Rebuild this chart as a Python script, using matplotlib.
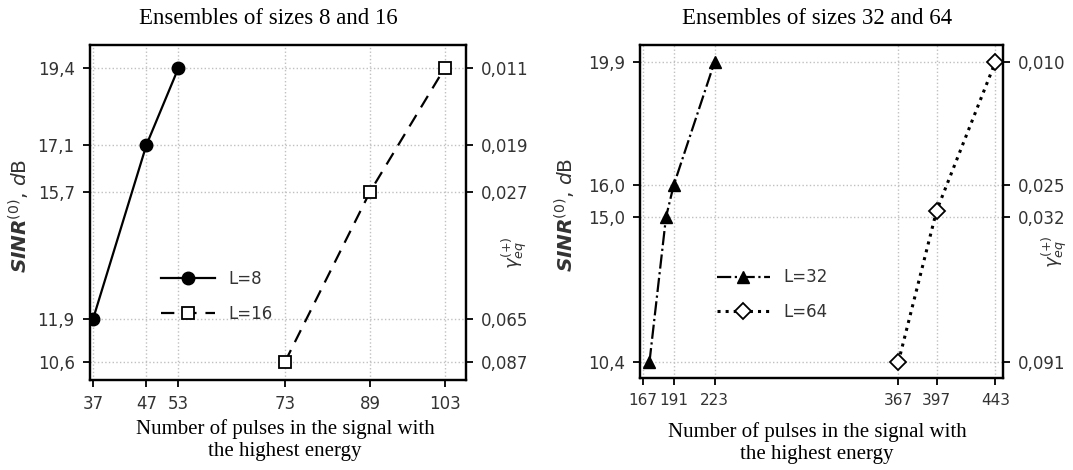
import matplotlib.pyplot as plt

# left panel: ensembles of 8 and 16
x8 = [37, 47, 53]
y8 = [11.9, 17.1, 19.4]
x16 = [73, 89, 103]
y16 = [10.6, 15.7, 19.4]
xt_left = [37, 47, 53, 73, 89, 103]
yt_left = [10.6, 11.9, 15.7, 17.1, 19.4]
yl_left = ['10,6', '11,9', '15,7', '17,1', '19,4']
gl_left = ['0,087', '0,065', '0,027', '0,019', '0,011']

# right panel: ensembles of 32 and 64
x32 = [172, 185, 191, 223]
y32 = [10.4, 15.0, 16.0, 19.9]
x64 = [367, 397, 443]
y64 = [10.4, 15.2, 19.9]
xt_right = [167, 191, 223, 367, 397, 443]
yt_right = [10.4, 15.0, 16.0, 19.9]
yl_right = ['10,4', '15,0', '16,0', '19,9']
gl_right = ['0,091', '0,032', '0,025', '0,010']

W, H = 1073, 470
fig = plt.figure(figsize=(W/100, H/100), dpi=100)
plt.rcParams['font.family'] = 'DejaVu Sans'
tick_col = '#333333'
serif = 'Liberation Serif'
ylab = r'$\mathbfit{SINR}^{(0)}$, $\mathit{d}$B'


def style(ax, xt, yt, ylabels, glabels, xlim, ylim, spos, gpos, xfs):
    ax.set_xlim(*xlim)
    ax.set_ylim(*ylim)
    ax.set_xticks(xt)
    ax.set_xticklabels([str(v) for v in xt])
    ax.set_yticks(yt)
    ax.set_yticklabels(ylabels)
    ax.grid(ls=':', color='#c0c0c0', lw=1)
    for s in ax.spines.values():
        s.set_linewidth(1.6)
    ax.tick_params(direction='out', length=5, width=1.3, labelsize=12,
                   labelcolor=tick_col, pad=6)
    ax.tick_params(axis='x', labelsize=xfs)
    ax.set_ylabel(ylab, fontsize=14.5, color=tick_col)
    ax.yaxis.set_label_coords(*spos)
    ax2 = ax.twinx()
    ax2.set_ylim(*ylim)
    ax2.set_yticks(yt)
    ax2.set_yticklabels(glabels)
    ax2.tick_params(direction='out', length=5, width=1.3, labelsize=12,
                    labelcolor=tick_col, pad=6)
    ax2.set_ylabel(r'$\gamma_{eq}^{(+)}$', fontsize=13, color=tick_col)
    ax2.yaxis.set_label_coords(*gpos)
    for s in ax2.spines.values():
        s.set_linewidth(1.6)
    return ax2


ax1 = fig.add_axes([90/W, (H-380)/H, 376/W, 335/H])
ax1.plot(x8, y8, '-', color='black', lw=1.6, marker='o', ms=9, label='L=8')
ax1.plot(x16, y16, '--', color='black', lw=1.6, marker='s', ms=9,
         mfc='white', mew=1.3, dashes=(6, 4), label='L=16')
style(ax1, xt_left, yt_left, yl_left, gl_left, (36.4, 107), (10.06, 20.09),
      (-0.154, 0.49), (1.09, 0.38), 12)
ax1.legend(loc='center left', bbox_to_anchor=(0.15, 0.25), frameon=False,
           fontsize=12, labelcolor=tick_col, handlelength=3.2, labelspacing=1.0)

ax3 = fig.add_axes([640/W, (H-378)/H, 363/W, 333/H])
ax3.plot(x32, y32, '-.', color='black', lw=1.6, marker='^', ms=9, label='L=32')
ax3.plot(x64, y64, ':', color='black', lw=2.2, marker='D', ms=8,
         mfc='white', mew=1.3, label='L=64')
style(ax3, xt_right, yt_right, yl_right, gl_right, (164.6, 449), (9.9, 20.44),
      (-0.171, 0.49), (1.10, 0.38), 11)
ax3.legend(loc='center left', bbox_to_anchor=(0.17, 0.25), frameon=False,
           fontsize=12, labelcolor=tick_col, handlelength=3.2, labelspacing=1.0)

fig.text(268/W, 1-18/H, 'Ensembles of sizes 8 and 16', ha='center', va='center',
         family=serif, fontsize=16.5)
fig.text(817/W, 1-18/H, 'Ensembles of sizes 32 and 64', ha='center', va='center',
         family=serif, fontsize=16.5)
fig.text(285/W, 1-440/H, 'Number of pulses in the signal with\nthe highest energy',
         ha='center', va='center', family=serif, fontsize=15, linespacing=1.15)
fig.text(817/W, 1-443/H, 'Number of pulses in the signal with\nthe highest energy',
         ha='center', va='center', family=serif, fontsize=15, linespacing=1.15)

fig.savefig('out.png', dpi=100)
